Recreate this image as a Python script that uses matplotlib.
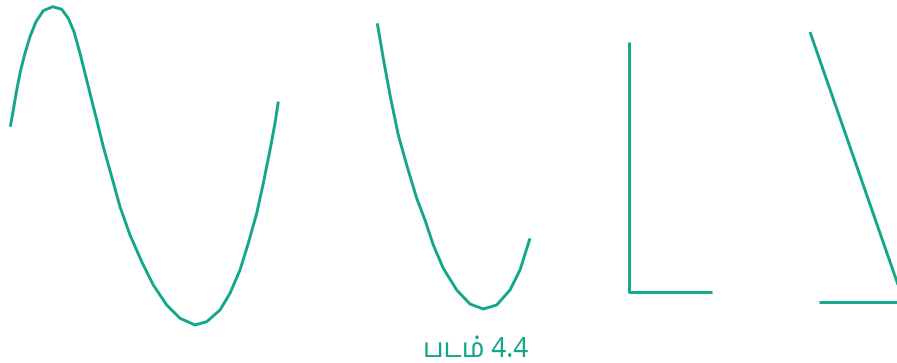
import matplotlib
matplotlib.use("Agg")
import matplotlib.pyplot as plt
from matplotlib import font_manager

# points (pixel coords, y down)
wave_x = [10.3, 13.3, 16.7, 20.7, 25, 30, 36, 43.3, 52.7, 61.7, 68.3, 74, 80, 85, 90, 96.7,
          103.3, 111.7, 120, 130, 141.7, 153.3, 166.7, 180, 195, 206.7, 220, 230, 240, 248.3,
          256.7, 263.3, 270, 275, 278.3]
wave_y = [126.7, 110, 90, 70, 53.3, 36.7, 21.7, 10.7, 6.7, 9.3, 18.3, 31.7, 53.3, 73.3, 93.3, 120,
          146.7, 176.7, 206.7, 235, 261.7, 285, 305, 318.3, 325, 321.7, 310, 293.3, 270, 243.3,
          213.3, 183.3, 150, 123.3, 101.7]

bowl_x = [377.3, 383.3, 390, 398.3, 406.7, 416.7, 425, 433.3, 443.3, 456.7, 470, 483.3, 496.7, 510, 520, 530]
bowl_y = [23.3, 58.3, 95, 135, 165, 198.3, 220, 245, 268.3, 290, 304, 309, 305, 290, 270, 238.3]

ell_x = [629, 629, 712]
ell_y = [42, 292, 292]

slant_x = [810, 904]
slant_y = [32, 302]
base_x = [819, 904]
base_y = [302, 302]

caption = "படம் 4.4"

teal = "#12a68a"

installed = {f.name for f in font_manager.fontManager.ttflist}
families = [f for f in ["Noto Sans Tamil", "Lohit Tamil", "Latha", "Noto Sans", "DejaVu Sans"] if f in installed]

fig = plt.figure(figsize=(8.97, 3.63), dpi=100)
ax = fig.add_axes([0, 0, 1, 1])
ax.set_xlim(0, 897)
ax.set_ylim(363, 0)
ax.axis("off")

for xs, ys in [(wave_x, wave_y), (bowl_x, bowl_y), (ell_x, ell_y), (slant_x, slant_y), (base_x, base_y)]:
    ax.plot(xs, ys, color=teal, lw=2.1, solid_joinstyle="round", solid_capstyle="butt")

ax.text(475.5, 357, caption, color=teal, fontsize=19, ha="center", va="baseline", family=families)

fig.savefig("out.png", dpi=100)
